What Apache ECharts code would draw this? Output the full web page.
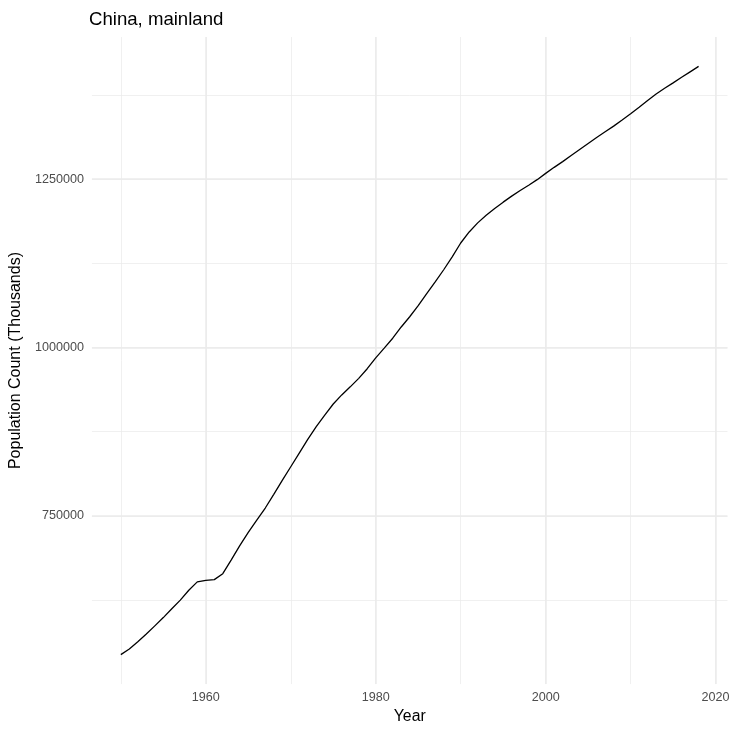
<!DOCTYPE html>
<html><head><meta charset="utf-8">
<script src="https://cdn.jsdelivr.net/npm/echarts@6/dist/echarts.min.js"></script>
<style>html,body{margin:0;padding:0;background:#fff}#c{width:733px;height:730px}</style>
</head><body><div id="c"></div>
<script>
const chartTitle = 'China, mainland';
const xTitle = 'Year';
const yTitle = 'Population Count (Thousands)';

const years = [1950,1951,1952,1953,1954,1955,1956,1957,1958,1959,
  1960,1961,1962,1963,1964,1965,1966,1967,1968,1969,
  1970,1971,1972,1973,1974,1975,1976,1977,1978,1979,
  1980,1981,1982,1983,1984,1985,1986,1987,1988,1989,
  1990,1991,1992,1993,1994,1995,1996,1997,1998,1999,
  2000,2001,2002,2003,2004,2005,2006,2007,2008,2009,
  2010,2011,2012,2013,2014,2015,2016,2017,2018];

const population = [543800,552200,562900,574300,586500,598800,612000,624700,639400,651800,
  654100,655200,664000,684600,705600,725300,743400,761500,781800,802600,
  822800,843100,863500,882300,899500,916000,929500,941500,954100,968400,
  984600,999000,1013700,1030400,1045600,1062000,1079900,1097300,1115400,1134600,
  1155100,1171500,1185000,1196300,1206500,1215800,1224700,1233000,1241000,1249200,
  1258500,1267500,1276000,1285000,1294000,1303000,1311900,1320300,1328700,1337800,
  1347100,1356900,1366900,1376500,1384900,1393000,1401200,1409300,1417400];

const xMajorTicks = [1960, 1980, 2000, 2020];
const yMajorTicks = [750000, 1000000, 1250000];
const yMinorStep = 125000;
const yMajorStep = 250000;

// ggplot-style 5% expansion of data ranges
const xLo = Math.min(...years), xHi = Math.max(...years);
const xMin = xLo - 0.05 * (xHi - xLo), xMax = xHi + 0.05 * (xHi - xLo);
const pLo = Math.min(...population), pHi = Math.max(...population);
const yMax = pHi + 0.05 * (pHi - pLo);
const yMin = Math.floor((pLo - 0.05 * (pHi - pLo)) / yMajorStep) * yMajorStep;

const gridColor = '#EBEBEB';
const textColor = '#4D4D4D';
const font = 'Liberation Sans, Arial, Helvetica, sans-serif';

const hidden = { axisLine: { show: false }, axisTick: { show: false } };

const chart = echarts.init(document.getElementById('c'), null, { renderer: 'canvas' });
chart.setOption({
  animation: false,
  backgroundColor: '#ffffff',
  title: {
    text: chartTitle, left: 84, top: 5,
    textStyle: { fontFamily: font, fontSize: 18.6, fontWeight: 'normal', color: '#000000' }
  },
  grid: { left: 88, right: 5.5, top: 37, bottom: 39.5 },
  xAxis: [
    Object.assign({
      type: 'value', min: xMin, max: xMax, splitNumber: 6, position: 'bottom',
      axisLabel: { show: false },
      splitLine: { show: true, showMinLine: false, showMaxLine: false, lineStyle: { color: gridColor, width: 0.75 } }
    }, hidden),
    Object.assign({
      type: 'value', min: xMin, max: xMax, splitNumber: 4, position: 'bottom',
      name: xTitle, nameLocation: 'middle', nameGap: 21,
      nameTextStyle: { fontFamily: font, fontSize: 15.8, color: '#000000' },
      axisLabel: {
        show: true, margin: 7, color: textColor, fontFamily: font, fontSize: 12.6,
        showMinLabel: false, showMaxLabel: false,
        formatter: v => xMajorTicks.includes(Math.round(v)) && Math.abs(v - Math.round(v)) < 1e-6 ? String(Math.round(v)) : ''
      },
      splitLine: { show: true, showMinLine: false, showMaxLine: false, lineStyle: { color: gridColor, width: 1.5 } }
    }, hidden)
  ],
  yAxis: [
    Object.assign({
      type: 'value', min: yMin, max: yMax, interval: yMinorStep, position: 'left',
      axisLabel: { show: false },
      splitLine: { show: true, showMinLine: false, showMaxLine: false, lineStyle: { color: gridColor, width: 0.75 } }
    }, hidden),
    Object.assign({
      type: 'value', min: yMin, max: yMax, interval: yMajorStep, position: 'left',
      name: yTitle, nameLocation: 'middle', nameGap: 63, nameRotate: 90,
      nameTextStyle: { fontFamily: font, fontSize: 16, color: '#000000' },
      axisLabel: {
        show: true, margin: 8, color: textColor, fontFamily: font, fontSize: 12.6,
        showMinLabel: false, showMaxLabel: false,
        formatter: v => yMajorTicks.includes(v) ? String(v) : ''
      },
      splitLine: { show: true, showMinLine: false, showMaxLine: false, lineStyle: { color: gridColor, width: 1.5 } }
    }, hidden)
  ],
  series: [{
    type: 'line', xAxisIndex: 1, yAxisIndex: 1,
    data: years.map((y, i) => [y, population[i]]),
    showSymbol: false, symbol: 'none',
    lineStyle: { color: '#000000', width: 1.3 },
    z: 5
  }]
});
</script>
</body></html>
